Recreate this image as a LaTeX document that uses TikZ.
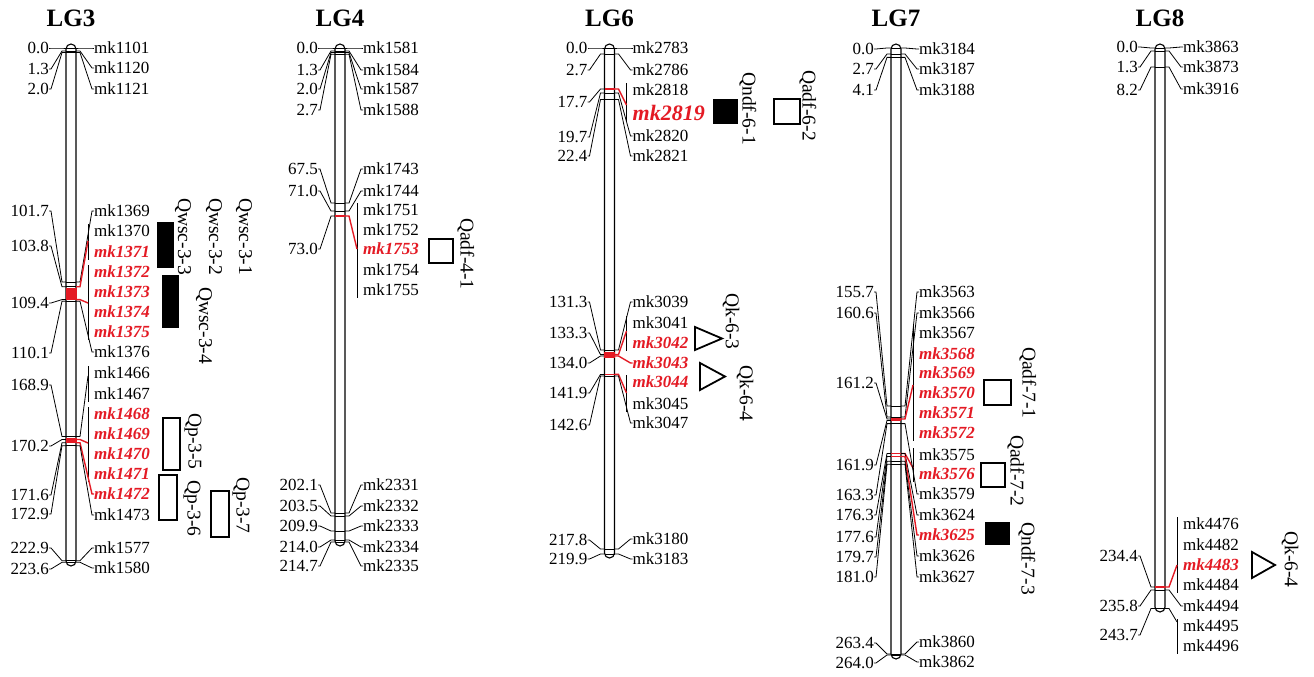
\documentclass[tikz,border=0pt]{standalone}
\usepackage{fontspec}
\setmainfont{Liberation Serif}
\definecolor{mkred}{RGB}{228,26,36}
\newcommand\fs{\fontsize{17}{17}\selectfont}
\newcommand\fbig{\fontsize{22}{22}\selectfont}
\newcommand\fq{\fontsize{19.5}{19.5}\selectfont}
\newcommand\ft{\fontsize{25}{25}\selectfont}
% left number + connector: name, cx, label y, text, position y
\newcommand\lnum[5]{\node[numlab] (#1) at (#2-22,#3) {#4};
  \draw[conn] (#1.east) -- ++(2,0) -- (#2-9,#5) -- (#2-5,#5);}
% right single marker + connector: name, cx, label y, text, pos y, node style, line style
\newcommand\rs[7]{\node[#6] (#1) at (#2+23,#3) {#4};
  \draw[#7] (#1.west) -- ++(-2,0) -- (#2+9,#5) -- (#2+5,#5);}
% right label only: name, cx, label y, text, style
\newcommand\rl[5]{\node[#5] (#1) at (#2+23,#3) {#4};}
% group line between two label nodes
\newcommand\grp[2]{\draw[conn] ([xshift=-6pt,yshift=7pt]#1.west) -- ([xshift=-6pt,yshift=-8pt]#2.west);}
% group connector: node, yshift, cx, pos y, line style
\newcommand\gcon[5]{\draw[#5] ([xshift=-6pt,yshift=#2]#1.west) -- (#3+9,#4) -- (#3+5,#4);}
% tick on bar: cx, y, style
\newcommand\tk[3]{\draw[#3] (#1-5,#2) -- (#1+5,#2);}
\begin{document}
\begin{tikzpicture}[x=1pt,y=-1pt,
  numlab/.style={anchor=east, inner sep=0pt, font=\fs},
  mk/.style={anchor=west, inner sep=0pt, font=\fs},
  redmk/.style={anchor=west, inner sep=0pt, font=\fs\bfseries\itshape, text=mkred},
  bigmk/.style={anchor=west, inner sep=0pt, font=\fbig\bfseries\itshape, text=mkred},
  conn/.style={line width=0.8pt, draw=black},
  rconn/.style={line width=1.4pt, draw=mkred},
  chrbar/.style={line width=1.1pt, draw=black, fill=white, rounded corners=5pt},
  bartick/.style={line width=0.7pt, draw=black},
  rtick/.style={line width=1.8pt, draw=mkred},
  redblock/.style={fill=mkred},
  qtl/.style={anchor=west, inner sep=0pt, rotate=-90, font=\fq},
  qopen/.style={line width=1.8pt, draw=black, fill=white},
  qfill/.style={fill=black},
  qtri/.style={line width=1.8pt, line join=miter, draw=black, fill=white},
  lgtitle/.style={font=\ft\bfseries, inner sep=0pt}]
\useasboundingbox (0,0) rectangle (1314,677);
\fill[white] (0,0) rectangle (1314,677);

% ================= LG3 =================
\node[lgtitle] (t3) at (71,18) {LG3};
\draw[chrbar] (66,44) rectangle (76,566);
\foreach \y in {48,51,52.6,282,286.7,301.2,436.5,445.7,560.7,562.3} {\tk{71}{\y}{bartick}}
\lnum{a1}{71}{48}{0.0}{48}
\lnum{a2}{71}{69}{1.3}{51}
\lnum{a3}{71}{89}{2.0}{52.6}
\lnum{a4}{71}{211}{101.7}{282}
\lnum{a5}{71}{246}{103.8}{286.7}
\lnum{a6}{71}{303}{109.4}{299.6}
\lnum{a7}{71}{353}{110.1}{301.2}
\lnum{a8}{71}{385}{168.9}{436.5}
\lnum{a9}{71}{446}{170.2}{439.5}
\lnum{a10}{71}{495}{171.6}{442.7}
\lnum{a11}{71}{514}{172.9}{445.7}
\lnum{a12}{71}{548}{222.9}{560.7}
\lnum{a13}{71}{569}{223.6}{562.3}
\rs{b1}{71}{48}{mk1101}{48}{mk}{conn}
\rs{b2}{71}{68}{mk1120}{51}{mk}{conn}
\rs{b3}{71}{89}{mk1121}{52.6}{mk}{conn}
\rs{b4}{71}{211}{mk1369}{282}{mk}{conn}
\rl{b5}{71}{231}{mk1370}{mk}
\rl{b6}{71}{252}{mk1371}{redmk}
\grp{b5}{b6}
\gcon{b5}{-10pt}{71}{286.7}{rconn}
\rl{b7}{71}{272}{mk1372}{redmk}
\rl{b8}{71}{292}{mk1373}{redmk}
\rl{b9}{71}{312}{mk1374}{redmk}
\rl{b10}{71}{332}{mk1375}{redmk}
\grp{b7}{b10}
\gcon{b9}{9pt}{71}{299.6}{rconn}
\rs{b11}{71}{352}{mk1376}{301.2}{mk}{conn}
\rl{b12}{71}{373}{mk1466}{mk}
\rl{b13}{71}{394}{mk1467}{mk}
\grp{b12}{b13}
\gcon{b12}{-3pt}{71}{436.5}{conn}
\rl{b14}{71}{414}{mk1468}{redmk}
\rl{b15}{71}{434}{mk1469}{redmk}
\rl{b16}{71}{454}{mk1470}{redmk}
\rl{b17}{71}{474}{mk1471}{redmk}
\grp{b14}{b17}
\gcon{b15}{-9pt}{71}{439.5}{rconn}
\rs{b18}{71}{494}{mk1472}{442.7}{redmk}{rconn}
\rs{b19}{71}{515}{mk1473}{445.7}{mk}{conn}
\rs{b20}{71}{548}{mk1577}{560.7}{mk}{conn}
\rs{b21}{71}{568}{mk1580}{562.3}{mk}{conn}
\fill[redblock] (65.5,287.5) rectangle (76.5,299.6);
\fill[redblock] (65.5,438) rectangle (76.5,443);
% QTLs LG3
\fill[qfill] (157,222) rectangle (174,268);
\fill[qfill] (162,275) rectangle (179,328);
\draw[qopen] (163,418) rectangle (180,470);
\draw[qopen] (159,475) rectangle (177,520);
\draw[qopen] (211,491) rectangle (229,537);
\node[qtl] (q33) at (183,198) {Qwsc-3-3};
\node[qtl] (q32) at (214,198) {Qwsc-3-2};
\node[qtl] (q31) at (244,198) {Qwsc-3-1};
\node[qtl] (q34) at (204,287) {Qwsc-3-4};
\node[qtl] (q35) at (193,413) {Qp-3-5};
\node[qtl] (q36) at (192,480) {Qp-3-6};
\node[qtl] (q37) at (241,477) {Qp-3-7};

% ================= LG4 =================
\node[lgtitle] (t4) at (340,18) {LG4};
\draw[chrbar] (335,44) rectangle (345,546);
\foreach \y in {48,51,52.6,54.2,203,211,513,516,531,540,542} {\tk{340}{\y}{bartick}}
\lnum{c1}{340}{48}{0.0}{48}
\lnum{c2}{340}{70}{1.3}{51}
\lnum{c3}{340}{89}{2.0}{52.6}
\lnum{c4}{340}{110}{2.7}{54.2}
\lnum{c5}{340}{169}{67.5}{203}
\lnum{c6}{340}{191}{71.0}{211}
\lnum{c7}{340}{249}{73.0}{216}
\lnum{c8}{340}{485}{202.1}{513}
\lnum{c9}{340}{506}{203.5}{516}
\lnum{c10}{340}{526}{209.9}{531}
\lnum{c11}{340}{547}{214.0}{540}
\lnum{c12}{340}{566}{214.7}{542}
\rs{d1}{340}{48}{mk1581}{48}{mk}{conn}
\rs{d2}{340}{70}{mk1584}{51}{mk}{conn}
\rs{d3}{340}{89}{mk1587}{52.6}{mk}{conn}
\rs{d4}{340}{110}{mk1588}{54.2}{mk}{conn}
\rs{d5}{340}{169}{mk1743}{203}{mk}{conn}
\rs{d6}{340}{191}{mk1744}{211}{mk}{conn}
\rl{d7}{340}{210}{mk1751}{mk}
\rl{d8}{340}{230}{mk1752}{mk}
\rl{d9}{340}{249}{mk1753}{redmk}
\rl{d10}{340}{270}{mk1754}{mk}
\rl{d11}{340}{290}{mk1755}{mk}
\grp{d7}{d11}
\gcon{d9}{0pt}{340}{216}{rconn}
\rs{d12}{340}{485}{mk2331}{513}{mk}{conn}
\rs{d13}{340}{506}{mk2332}{516}{mk}{conn}
\rs{d14}{340}{526}{mk2333}{531}{mk}{conn}
\rs{d15}{340}{547}{mk2334}{540}{mk}{conn}
\rs{d16}{340}{566}{mk2335}{542}{mk}{conn}
\tk{340}{216}{rtick}
\draw[qopen] (429,239) rectangle (453,263);
\node[qtl] (q41) at (466,218) {Qadf-4-1};

% ================= LG6 =================
\node[lgtitle] (t6) at (609.5,18) {LG6};
\draw[chrbar] (604.5,44) rectangle (614.5,558);
\foreach \y in {48,54,93,99.5,350,376,549,554} {\tk{609.5}{\y}{bartick}}
\lnum{e1}{609.5}{48}{0.0}{48}
\lnum{e2}{609.5}{70}{2.7}{54}
\lnum{e3}{609.5}{102}{17.7}{89}
\lnum{e4}{609.5}{137}{19.7}{93}
\lnum{e5}{609.5}{156}{22.4}{99.5}
\lnum{e6}{609.5}{302}{131.3}{350}
\lnum{e7}{609.5}{333}{133.3}{354.6}
\lnum{e8}{609.5}{363}{134.0}{356}
\lnum{e9}{609.5}{393}{141.9}{374.4}
\lnum{e10}{609.5}{425}{142.6}{376}
\lnum{e11}{609.5}{540}{217.8}{549}
\lnum{e12}{609.5}{559}{219.9}{554}
\rs{f1}{609.5}{48}{mk2783}{48}{mk}{conn}
\rs{f2}{609.5}{70}{mk2786}{54}{mk}{conn}
\rl{f3}{609.5}{90}{mk2818}{mk}
\rl{f4}{609.5}{113}{mk2819}{bigmk}
\grp{f3}{f4}
\gcon{f4}{8pt}{609.5}{89}{rconn}
\rs{f5}{609.5}{136}{mk2820}{93}{mk}{conn}
\rs{f6}{609.5}{156}{mk2821}{99.5}{mk}{conn}
\rs{f7}{609.5}{302}{mk3039}{350}{mk}{conn}
\rl{f8}{609.5}{323}{mk3041}{mk}
\rl{f9}{609.5}{343}{mk3042}{redmk}
\grp{f8}{f9}
\gcon{f8}{-8pt}{609.5}{354.6}{rconn}
\rs{f10}{609.5}{363}{mk3043}{356}{redmk}{rconn}
\rl{f11}{609.5}{382}{mk3044}{redmk}
\rl{f12}{609.5}{404}{mk3045}{mk}
\grp{f11}{f12}
\gcon{f11}{-11pt}{609.5}{374.4}{rconn}
\rs{f13}{609.5}{423}{mk3047}{376}{mk}{conn}
\rs{f14}{609.5}{539}{mk3180}{549}{mk}{conn}
\rs{f15}{609.5}{559}{mk3183}{554}{mk}{conn}
\tk{609.5}{89}{rtick}
\tk{609.5}{374.4}{rtick}
\fill[redblock] (604,352) rectangle (615,357.5);
\fill[qfill] (713,99) rectangle (738,124);
\draw[qopen] (774,99) rectangle (800,124);
\node[qtl] (q61) at (748,72) {Qndf-6-1};
\node[qtl] (q62) at (808,70) {Qadf-6-2};
\draw[qtri] (695,327) -- (695,350) -- (722,338.5) -- cycle;
\draw[qtri] (700,363) -- (700,390) -- (725,376.5) -- cycle;
\node[qtl] (q63) at (731,293) {Qk-6-3};
\node[qtl] (q64) at (745,365) {Qk-6-4};

% ================= LG7 =================
\node[lgtitle] (t7) at (896,18) {LG7};
\draw[chrbar] (891,44) rectangle (901,659);
\foreach \y in {48,54,57.4,406,417,423.6,461.3,464.3,654,655} {\tk{896}{\y}{bartick}}
\lnum{g1}{896}{49}{0.0}{48}
\lnum{g2}{896}{69}{2.7}{54}
\lnum{g3}{896}{90}{4.1}{57.4}
\lnum{g4}{896}{292}{155.7}{406}
\lnum{g5}{896}{313}{160.6}{417}
\lnum{g6}{896}{383}{161.2}{419}
\lnum{g7}{896}{465}{161.9}{420.5}
\lnum{g8}{896}{495}{163.3}{423.6}
\lnum{g9}{896}{515}{176.3}{453.5}
\lnum{g10}{896}{537}{177.6}{456.5}
\lnum{g11}{896}{557}{179.7}{461.3}
\lnum{g12}{896}{577}{181.0}{464.3}
\lnum{g13}{896}{643}{263.4}{654}
\lnum{g14}{896}{663}{264.0}{655}
\rs{h1}{896}{49}{mk3184}{48}{mk}{conn}
\rs{h2}{896}{69}{mk3187}{54}{mk}{conn}
\rs{h3}{896}{90}{mk3188}{57.4}{mk}{conn}
\rs{h4}{896}{292}{mk3563}{406}{mk}{conn}
\rs{h5}{896}{313}{mk3566}{417}{mk}{conn}
\rl{h6}{896}{333}{mk3567}{mk}
\rl{h7}{896}{354}{mk3568}{redmk}
\rl{h8}{896}{373}{mk3569}{redmk}
\rl{h9}{896}{393}{mk3570}{redmk}
\rl{h10}{896}{413}{mk3571}{redmk}
\rl{h11}{896}{433}{mk3572}{redmk}
\grp{h6}{h11}
\gcon{h9}{8pt}{896}{419}{rconn}
\rl{h12}{896}{455}{mk3575}{mk}
\rl{h13}{896}{474}{mk3576}{redmk}
\grp{h12}{h13}
\gcon{h13}{6pt}{896}{453.5}{rconn}
\rs{h14}{896}{494}{mk3579}{423.6}{mk}{conn}
\rs{h15}{896}{515}{mk3624}{453.5}{mk}{conn}
\rs{h16}{896}{535}{mk3625}{456.5}{redmk}{rconn}
\rs{h17}{896}{556}{mk3626}{461.3}{mk}{conn}
\rs{h18}{896}{577}{mk3627}{464.3}{mk}{conn}
\rs{h19}{896}{642}{mk3860}{654}{mk}{conn}
\rs{h20}{896}{662}{mk3862}{655}{mk}{conn}
\foreach \y in {419,420.5,453.5,456.5} {\tk{896}{\y}{rtick}}
\draw[qopen] (984,380) rectangle (1011,405);
\draw[qopen] (981,463) rectangle (1005,487);
\fill[qfill] (985,522) rectangle (1010,545);
\node[qtl] (q71) at (1028,347) {Qadf-7-1};
\node[qtl] (q72) at (1016,435) {Qadf-7-2};
\node[qtl] (q73) at (1027,522) {Qndf-7-3};

% ================= LG8 =================
\node[lgtitle] (t8) at (1160,18) {LG8};
\draw[chrbar] (1155,44) rectangle (1165,612);
\foreach \y in {48,51,67,590,608.5} {\tk{1160}{\y}{bartick}}
\lnum{i1}{1160}{47}{0.0}{48}
\lnum{i2}{1160}{67}{1.3}{51}
\lnum{i3}{1160}{90}{8.2}{67}
\lnum{i4}{1160}{556}{234.4}{587}
\lnum{i5}{1160}{606}{235.8}{590}
\lnum{i6}{1160}{635}{243.7}{608.5}
\rs{j1}{1160}{47}{mk3863}{48}{mk}{conn}
\rs{j2}{1160}{67}{mk3873}{51}{mk}{conn}
\rs{j3}{1160}{89}{mk3916}{67}{mk}{conn}
\rl{j4}{1160}{524}{mk4476}{mk}
\rl{j5}{1160}{545}{mk4482}{mk}
\rl{j6}{1160}{565}{mk4483}{redmk}
\rl{j7}{1160}{585}{mk4484}{mk}
\grp{j4}{j7}
\gcon{j6}{0pt}{1160}{587}{rconn}
\rs{j8}{1160}{606}{mk4494}{590}{mk}{conn}
\rl{j9}{1160}{626}{mk4495}{mk}
\rl{j10}{1160}{646}{mk4496}{mk}
\grp{j9}{j10}
\gcon{j9}{4pt}{1160}{608.5}{conn}
\tk{1160}{587}{rtick}
\draw[qtri] (1252,552) -- (1252,578) -- (1275,565) -- cycle;
\node[qtl] (q84) at (1290,531) {Qk-6-4};
\end{tikzpicture}
\end{document}
